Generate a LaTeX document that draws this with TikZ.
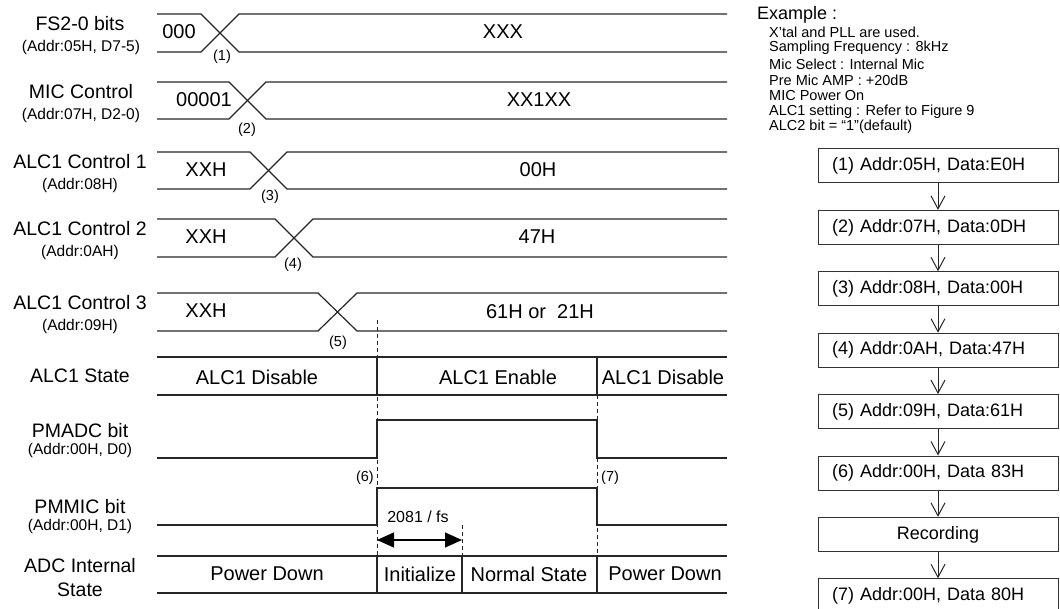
\documentclass[tikz,border=0pt]{standalone}
\usepackage{fontspec}
\setmainfont{Liberation Sans}
\usetikzlibrary{arrows.meta}
\begin{document}
\begin{tikzpicture}[x=1pt,y=-1pt,
  lbl/.style={font=\fontsize{19.5}{22}\selectfont, inner sep=0pt},
  sub/.style={font=\fontsize{15.5}{18}\selectfont, inner sep=0pt},
  val/.style={font=\fontsize{20}{22}\selectfont, inner sep=0pt},
  num/.style={font=\fontsize{14.5}{16}\selectfont, inner sep=0pt},
  exl/.style={font=\fontsize{14.5}{16}\selectfont, inner sep=0pt, anchor=west},
  wave/.style={line width=1.2pt, draw=black!85},
  dsh/.style={line width=1pt, draw=black!85, dash pattern=on 4pt off 3pt},
  fbox/.style={draw=black!80, line width=1pt, minimum width=240pt, minimum height=34pt,
    inner sep=0pt, font=\fontsize{18}{20}\selectfont, text width=212pt, align=left},
  rbox/.style={fbox, align=center},
  flow/.style={draw=black!85, line width=1pt, -{Straight Barb[length=13pt,width=14pt]}},
  dim/.style={draw=black, line width=1.2pt, {Triangle[length=17pt,width=15pt]}-{Triangle[length=17pt,width=15pt]}}
]
\useasboundingbox (0,0) rectangle (1060,609);

% ---------- left labels ----------
\node[lbl] (l1) at (80,24) {FS2-0 bits};
\node[sub] (s1) at (81,47) {(Addr:05H, D7-5)};
\node[lbl] (l2) at (81,92) {MIC Control};
\node[sub] (s2) at (81,115) {(Addr:07H, D2-0)};
\node[lbl] (l3) at (80,162) {ALC1 Control 1};
\node[sub] (s3) at (80,185) {(Addr:08H)};
\node[lbl] (l4) at (80,229) {ALC1 Control 2};
\node[sub] (s4) at (80,252) {(Addr:0AH)};
\node[lbl] (l5) at (80,303) {ALC1 Control 3};
\node[sub] (s5) at (80,326) {(Addr:09H)};
\node[lbl] (l6) at (80,376) {ALC1 State};
\node[lbl] (l7) at (80,431) {PMADC bit};
\node[sub] (s7) at (80,450) {(Addr:00H, D0)};
\node[lbl] (l8) at (80,507) {PMMIC bit};
\node[sub] (s8) at (80,526) {(Addr:00H, D1)};
\node[lbl] (l9) at (80,566) {ADC Internal};
\node[lbl] (l9b) at (80,590) {State};

% ---------- bus waveforms ----------
\draw[wave] (157,14) -- (201,14) -- (239,52) -- (727,52);
\draw[wave] (157,52) -- (201,52) -- (239,14) -- (727,14);
\node[val] (v1a) at (179,32) {000};
\node[val] (v1b) at (503,32) {XXX};
\node[num] (n1) at (222,57) {(1)};
\draw[wave] (157,82) -- (229,82) -- (266,119) -- (727,119);
\draw[wave] (157,119) -- (229,119) -- (266,82) -- (727,82);
\node[val] (v2a) at (204,100) {00001};
\node[val] (v2b) at (539,100) {XX1XX};
\node[num] (n2) at (247,130) {(2)};
\draw[wave] (157,152) -- (250,152) -- (287,189) -- (727,189);
\draw[wave] (157,189) -- (250,189) -- (287,152) -- (727,152);
\node[val] (v3a) at (206,170) {XXH};
\node[val] (v3b) at (538,170) {00H};
\node[num] (n3) at (270,197) {(3)};
\draw[wave] (157,219) -- (275,219) -- (313,257) -- (727,257);
\draw[wave] (157,257) -- (275,257) -- (313,219) -- (727,219);
\node[val] (v4a) at (206,237) {XXH};
\node[val] (v4b) at (537,237) {47H};
\node[num] (n4) at (293,265) {(4)};
\draw[wave] (157,293) -- (318,293) -- (357,331) -- (727,331);
\draw[wave] (157,331) -- (318,331) -- (357,293) -- (727,293);
\node[val] (v5a) at (206,311) {XXH};
\node[val] (v5b) at (540,312) {61H or\ \ 21H};
\node[num] (n5) at (338,343) {(5)};

% ---------- dashed guide lines ----------
\draw[dsh] (377,320) -- (377,556);
\draw[dsh] (597,395) -- (597,556);
\draw[dsh] (462,525) -- (462,556);

% ---------- ALC1 state row ----------
\draw[wave] (157,357) -- (727,357);
\draw[wave] (157,395) -- (727,395);
\draw[wave] (377,357) -- (377,395);
\draw[wave] (597,357) -- (597,395);
\node[val] (st1) at (257,377) {ALC1 Disable};
\node[val] (st2) at (498,377) {ALC1 Enable};
\node[val] (st3) at (663,377) {ALC1 Disable};

% ---------- PMADC / PMMIC ----------
\draw[wave] (157,458) -- (377,458) -- (377,420) -- (597,420) -- (597,458) -- (727,458);
\draw[wave] (157,525) -- (377,525) -- (377,488) -- (597,488) -- (597,525) -- (727,525);
\node[num, anchor=east] (n6) at (374,478) {(6)};
\node[num, anchor=west] (n7) at (601,478) {(7)};

% ---------- 2081/fs dimension ----------
\coordinate (d1) at (377,540);
\coordinate (d2) at (462,540);
\draw[dim] (d1) -- (d2);
\node[font=\fontsize{16}{18}\selectfont, inner sep=0pt] (dl) at (418,517) {2081 / fs};

% ---------- ADC internal state row ----------
\draw[wave] (157,556) -- (727,556);
\draw[wave] (157,593) -- (727,593);
\draw[wave] (377,556) -- (377,593);
\draw[wave] (462,556) -- (462,593);
\draw[wave] (597,556) -- (597,593);
\node[val] (a1) at (267,574) {Power Down};
\node[val] (a2) at (420,574) {Initialize};
\node[val] (a3) at (529,574) {Normal State};
\node[val] (a4) at (665,574) {Power Down};

% ---------- example text ----------
\node[font=\fontsize{18}{20}\selectfont, inner sep=0pt, anchor=west] (ex) at (757,15) {Example :};
\node[exl] (e1) at (769,32) {X'tal and PLL are used.};
\node[exl] (e2) at (769,48) {Sampling Frequency : 8kHz};
\node[exl] (e3) at (769,64) {Mic Select : Internal Mic};
\node[exl] (e4) at (769,80) {Pre Mic AMP : +20dB};
\node[exl] (e5) at (769,96) {MIC Power On};
\node[exl] (e6) at (769,112) {ALC1 setting : Refer to Figure 9};
\node[exl] (e7) at (769,127) {ALC2 bit = “1”(default)};

% ---------- flow boxes ----------
\node[fbox] (b1) at (938,166) {(1) Addr:05H, Data:E0H};
\node[fbox] (b2) at (938,227.4) {(2) Addr:07H, Data:0DH};
\node[fbox] (b3) at (938,288.8) {(3) Addr:08H, Data:00H};
\node[fbox] (b4) at (938,350.2) {(4) Addr:0AH, Data:47H};
\node[fbox] (b5) at (938,411.6) {(5) Addr:09H, Data:61H};
\node[fbox] (b6) at (938,473) {(6) Addr:00H, Data 83H};
\node[rbox] (b7) at (938,534.4) {Recording};
\node[fbox] (b8) at (938,595.8) {(7) Addr:00H, Data 80H};
\draw[flow] (b1.south) -- (b2.north);
\draw[flow] (b2.south) -- (b3.north);
\draw[flow] (b3.south) -- (b4.north);
\draw[flow] (b4.south) -- (b5.north);
\draw[flow] (b5.south) -- (b6.north);
\draw[flow] (b6.south) -- (b7.north);
\draw[flow] (b7.south) -- (b8.north);
\end{tikzpicture}
\end{document}
